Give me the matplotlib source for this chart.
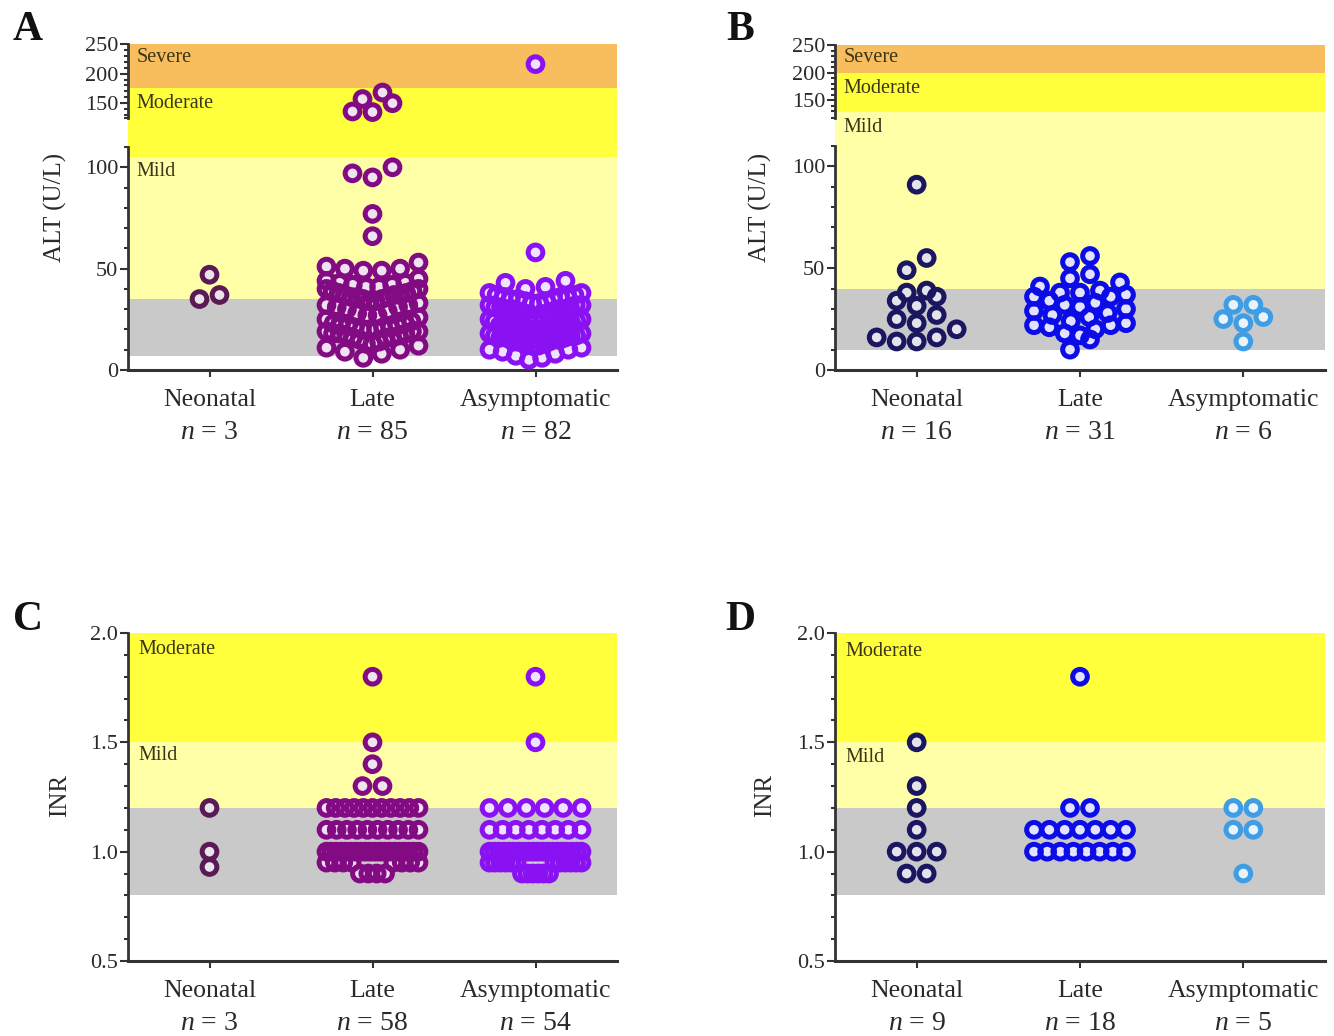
import numpy as np
import matplotlib
matplotlib.use("Agg")
import matplotlib.pyplot as plt

plt.rcParams['font.family'] = ['Liberation Serif', 'DejaVu Serif']
plt.rcParams['mathtext.fontset'] = 'custom'
plt.rcParams['mathtext.it'] = 'Liberation Serif:italic'
plt.rcParams['mathtext.rm'] = 'Liberation Serif'

W, H, DPI = 1334, 1036, 100

groups = ["Neonatal", "Late", "Asymptomatic"]

# ---- ALT (U/L), patients ----
alt_a_neonatal = [47, 35, 37]
alt_a_late = [168, 157, 150, 136, 135, 100, 97, 95, 77, 66,
              53, 51, 50, 50, 49, 49,
              45, 44, 43, 43, 42, 42, 41, 41, 40, 40,
              39, 39, 38, 38, 37, 37, 37, 36, 36, 36, 35, 35,
              34, 34, 33, 32, 32, 31, 31, 30,
              29, 28, 27, 27, 26, 25,
              24, 23, 23, 22, 22, 22, 21, 21, 21, 20, 20, 20,
              19, 19, 19, 18, 18, 18, 17, 17, 16, 16, 16, 15,
              14, 13, 13, 12, 11, 10,
              9, 8, 6]
alt_a_asym = [216, 58, 44, 43, 41, 40,
              38, 38, 37, 37, 36, 36, 36, 35, 35, 35, 34, 34, 33, 33,
              32, 32, 32, 31, 31, 31, 30, 30, 30, 30, 29, 29, 28, 28,
              27, 27, 26, 25, 25, 24, 24, 23,
              22, 22, 22, 21, 21, 21, 21, 20, 20, 20, 20, 19, 19, 19, 18, 18,
              17, 17, 17, 16, 16, 16, 15, 15, 15, 14, 14, 14, 13, 13,
              12, 12, 11, 10, 10, 9, 8,
              7, 6, 5]

# ---- ALT (U/L), second cohort ----
alt_b_neonatal = [91, 55, 49, 39, 36, 31.5, 27, 34, 38, 25, 20, 16, 14, 14, 16, 23]
alt_b_late = [56, 53, 47, 45, 43, 41,
              39, 38, 38, 37, 36, 36,
              34, 33, 32, 31, 30,
              29, 28, 27, 26,
              24, 23, 22, 22, 21, 20,
              18, 17, 15, 10]
alt_b_asym = [26, 32, 23, 32, 25, 14]

# ---- INR ----
inr_c_neonatal = [1.2, 1.0, 0.93]
inr_c_late = [1.8, 1.5, 1.4, 1.3, 1.3] + [1.2] * 11 + [1.1] * 10 + [1.0] * 20 + [0.95] * 8 + [0.9] * 4
inr_c_asym = [1.8, 1.5] + [1.2] * 6 + [1.1] * 8 + [1.0] * 20 + [0.95] * 12 + [0.9] * 6

inr_d_neonatal = [1.5, 1.3, 1.2, 1.1, 1.0, 1.0, 1.0, 0.9, 0.9]
inr_d_late = [1.8, 1.2, 1.2] + [1.1] * 7 + [1.0] * 8
inr_d_asym = [1.2, 1.1, 1.1, 1.2, 0.9]

purple_cols = ['#5a1a55', '#820a82', '#8a12f2']
blue_cols = ['#1a1660', '#0c0ce8', '#3f9de6']

ORANGE, BRIGHT, PALE, GREY = '#f8be5e', '#ffff3c', '#ffffa8', '#c9c9c9'
AXC = '#333333'
TXT = '#2a2a2a'


def make_axes(l, t, r, b):
    return fig.add_axes([l / W, 1 - b / H, (r - l) / W, (b - t) / H])


def piecewise(knots):
    v = np.array([k[0] for k in knots], float)
    h = np.array([k[1] for k in knots], float)
    # extend linearly on both sides so the scale stays invertible
    v = np.concatenate([[v[0] - 1000], v, [v[-1] + 1000]])
    h = np.concatenate([[h[0] - 1000 * (h[1] - h[0]) / (v[2] - v[1])], h,
                        [h[-1] + 1000 * (h[-1] - h[-2]) / (v[-2] - v[-3])]])
    return (lambda y: np.interp(y, v, h)), (lambda y: np.interp(y, h, v))


def swarm(ax, xc, vals, d=20.0, half=46.0, rowh=13.0):
    vals = np.sort(np.asarray(vals, float))
    pts = ax.transData.transform(np.column_stack([np.full(len(vals), xc), vals]))
    hy = pts[:, 1]
    x0 = pts[0, 0]
    rows, cur = [], [0]
    for i in range(1, len(vals)):
        if hy[i] - hy[cur[0]] < rowh:
            cur.append(i)
        else:
            rows.append(cur)
            cur = [i]
    rows.append(cur)
    xs = np.zeros(len(vals))
    for r in rows:
        k = len(r)
        s = d if k == 1 else min(d, 2 * half / (k - 1))
        slots = [(j - (k - 1) / 2) * s for j in range(k)]
        slots.sort(key=lambda o: (abs(o), o))
        # lowest value in the middle, higher ones to the outside
        for i, o in zip(r, slots):
            xs[i] = x0 + o
    data = ax.transData.inverted().transform(np.column_stack([xs, hy]))
    return data[:, 0], vals


def tint(c, f=0.88):
    rgb = np.array(matplotlib.colors.to_rgb(c))
    return tuple(rgb + (1 - rgb) * f)


def draw_points(ax, datasets, cols):
    for i, (vals, c) in enumerate(zip(datasets, cols)):
        xs, ys = swarm(ax, i, vals)
        ax.scatter(xs, ys, s=112, facecolor=tint(c), edgecolor='none', zorder=3, clip_on=False)
        ax.scatter(xs, ys, s=112, facecolor='none', edgecolor=c, linewidths=3.6, zorder=4, clip_on=False)


def style_x(ax, datasets):
    ax.set_xlim(-0.5, 2.5)
    ax.set_xticks(range(3), labels=groups)
    ax.tick_params(axis='x', length=5, width=1.5, color=AXC, pad=9,
                   labelsize=18.5, labelcolor=TXT)
    for i, v in enumerate(datasets):
        ax.annotate(f"$n$ = {len(v)}", xy=(i, 0), xycoords=('data', 'axes fraction'),
                    xytext=(0, -62), textcoords='offset pixels', ha='center', va='center',
                    fontsize=20, color=TXT, annotation_clip=False)
    for s in ['top', 'right']:
        ax.spines[s].set_visible(False)
    ax.spines['bottom'].set_color(AXC)
    ax.spines['bottom'].set_linewidth(2.2)
    ax.spines['left'].set_color(AXC)
    ax.spines['left'].set_linewidth(2.0)
    ax.tick_params(axis='y', which='both', color=AXC, width=1.5, labelsize=16,
                   labelcolor=TXT, pad=1)
    ax.tick_params(axis='y', which='major', length=6)
    ax.tick_params(axis='y', which='minor', length=3)


def add_notes(ax, x, notes):
    for txt, ya in notes:
        ax.text(x, ya, txt, transform=ax.transAxes, fontsize=14.5,
                color='#3a3418', va='center', ha='left')


def alt_panel(ax, knots, lo_top, up_bot, bands, datasets, cols, notes):
    fwd, inv = piecewise(knots)
    ax.set_yscale('function', functions=(fwd, inv))
    ax.set_ylim(0, 250)
    for a, b, c in bands:
        ax.axhspan(a, b, color=c, lw=0, zorder=0)
    ax.set_yticks([0, 50, 100, 150, 200, 250])
    minors = [v for v in range(10, lo_top + 1, 10) if v % 50]
    minors += [up_bot] + [v for v in range(130, 250, 10) if v % 50 and v > up_bot]
    ax.set_yticks(minors, minor=True)
    style_x(ax, datasets)
    ax.spines['left'].set_bounds(0, lo_top)
    ax.plot([0, 0], [up_bot, 250], transform=ax.get_yaxis_transform(),
            color=AXC, lw=2.0, clip_on=False, zorder=5)
    add_notes(ax, 0.018, notes)
    draw_points(ax, datasets, cols)


def inr_panel(ax, datasets, cols, notes):
    ax.set_ylim(0.5, 2.0)
    for a, b, c in [(0.8, 1.2, GREY), (1.2, 1.5, PALE), (1.5, 2.0, BRIGHT)]:
        ax.axhspan(a, b, color=c, lw=0, zorder=0)
    ax.set_yticks([0.5, 1.0, 1.5, 2.0])
    ax.set_yticks([0.6, 0.7, 0.8, 0.9, 1.1, 1.2, 1.3, 1.4, 1.6, 1.7, 1.8, 1.9], minor=True)
    ax.yaxis.set_major_formatter(matplotlib.ticker.FormatStrFormatter('%.1f'))
    style_x(ax, datasets)
    add_notes(ax, 0.022, notes)
    draw_points(ax, datasets, cols)


fig = plt.figure(figsize=(W / DPI, H / DPI), dpi=DPI)

axA = make_axes(128, 44, 617, 370)
alt_panel(axA, [(0, 0), (110, 223), (125, 252), (250, 326)], 110, 125,
          [(7, 35, GREY), (35, 105, PALE), (105, 175, BRIGHT), (175, 250, ORANGE)],
          [alt_a_neonatal, alt_a_late, alt_a_asym], purple_cols,
          [("Severe", 0.960), ("Moderate", 0.816), ("Mild", 0.610)])

axB = make_axes(835, 45, 1325, 370)
alt_panel(axB, [(0, 0), (110, 224), (118, 252), (250, 325)], 110, 118,
          [(10, 40, GREY), (40, 128, PALE), (128, 200, BRIGHT), (200, 250, ORANGE)],
          [alt_b_neonatal, alt_b_late, alt_b_asym], blue_cols,
          [("Severe", 0.963), ("Moderate", 0.865), ("Mild", 0.745)])

axC = make_axes(128, 633, 617, 961)
inr_panel(axC, [inr_c_neonatal, inr_c_late, inr_c_asym], purple_cols,
          [("Moderate", 0.951), ("Mild", 0.625)])

axD = make_axes(835, 633, 1325, 961)
inr_panel(axD, [inr_d_neonatal, inr_d_late, inr_d_asym], blue_cols,
          [("Moderate", 0.945), ("Mild", 0.619)])

# y labels
for x, y, t in [(55, 207, "ALT (U/L)"), (760, 207, "ALT (U/L)"),
                (60, 795, "INR"), (765, 795, "INR")]:
    fig.text(x / W, 1 - y / H, t, rotation=90, ha='center', va='center',
             fontsize=18, color=TXT)

# panel letters
for x, y, t in [(28, 30, "A"), (740, 30, "B"), (28, 620, "C"), (740, 620, "D")]:
    fig.text(x / W, 1 - y / H, t, ha='center', va='center', fontsize=30,
             fontweight='bold', color='#111111')

fig.savefig("out.png", dpi=DPI)
